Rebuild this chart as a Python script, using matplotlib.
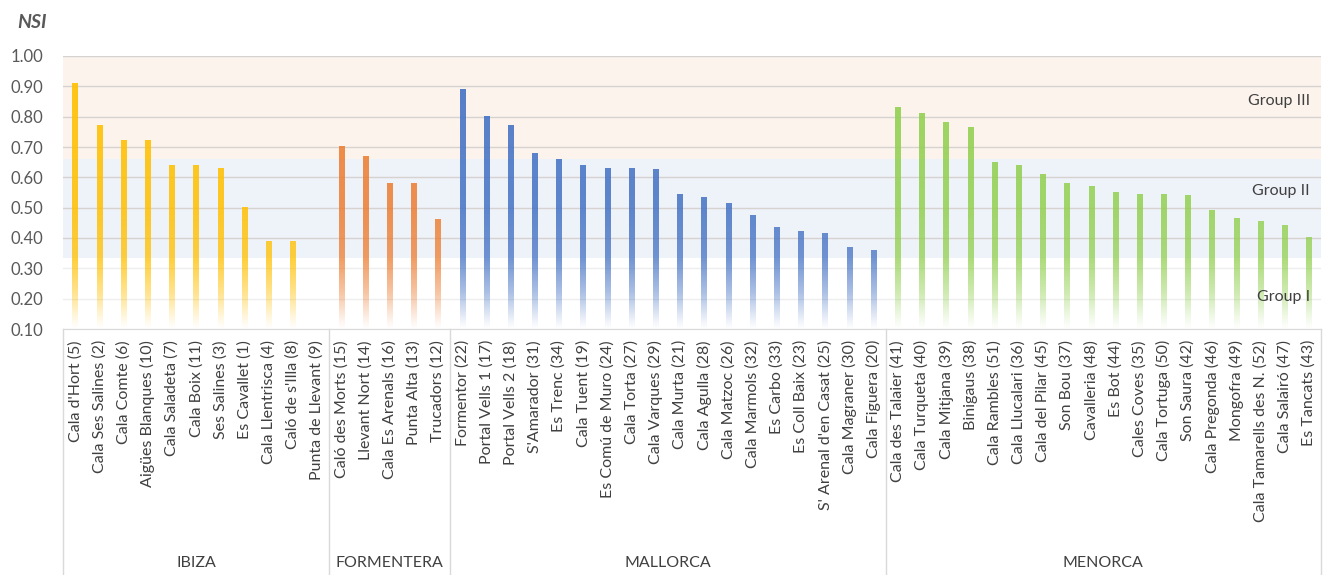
import numpy as np
import matplotlib
matplotlib.use("Agg")
import matplotlib.pyplot as plt
import matplotlib.transforms as mtransforms
from matplotlib.colors import to_rgb

plt.rcParams["font.family"] = ["Lato", "DejaVu Sans"]

# --- data (NSI per beach, grouped by island) ---
islands = ["IBIZA", "FORMENTERA", "MALLORCA", "MENORCA"]
island_colors = ["#FFC000", "#ED7D31", "#4472C4", "#92D050"]

ibiza_names = ["Cala d'Hort (5)", "Cala Ses Salines (2)", "Cala Comte (6)", "Aigües Blanques (10)",
               "Cala Saladeta (7)", "Cala Boix (11)", "Ses Salines (3)", "Es Cavallet (1)",
               "Cala Llentrisca (4)", "Caló de s'Illa (8)", "Punta de Llevant (9)"]
ibiza_nsi = [0.91, 0.77, 0.72, 0.72, 0.64, 0.64, 0.63, 0.50, 0.39, 0.39, 0.0]

formentera_names = ["Caló des Morts (15)", "Llevant Nort (14)", "Cala Es Arenals (16)",
                    "Punta Alta (13)", "Trucadors (12)"]
formentera_nsi = [0.70, 0.67, 0.58, 0.58, 0.46]

mallorca_names = ["Formentor (22)", "Portal Vells 1 (17)", "Portal Vells 2 (18)", "S'Amarador (31)",
                  "Es Trenc (34)", "Cala Tuent (19)", "Es Comú de Muro (24)", "Cala Torta (27)",
                  "Cala Varques (29)", "Cala Murta (21)", "Cala Agulla (28)", "Cala Matzoc (26)",
                  "Cala Marmols (32)", "Es Carbo (33)", "Es Coll Baix (23)", "S' Arenal d'en Casat (25)",
                  "Cala Magraner (30)", "Cala Figuera (20)"]
mallorca_nsi = [0.89, 0.80, 0.77, 0.68, 0.66, 0.64, 0.63, 0.63, 0.625, 0.545, 0.535, 0.515,
                0.475, 0.435, 0.42, 0.415, 0.37, 0.36]

menorca_names = ["Cala des Talaier (41)", "Cala Turqueta (40)", "Cala Mitjana (39)", "Binigaus (38)",
                 "Cala Rambles (51)", "Cala Llucalari (36)", "Cala del Pilar (45)", "Son Bou (37)",
                 "Cavalleria (48)", "Es Bot (44)", "Cales Coves (35)", "Cala Tortuga (50)",
                 "Son Saura (42)", "Cala Pregonda (46)", "Mongofra (49)", "Cala Tamarells des N. (52)",
                 "Cala Salairó (47)", "Es Tancats (43)"]
menorca_nsi = [0.83, 0.81, 0.78, 0.765, 0.65, 0.64, 0.61, 0.58, 0.57, 0.55, 0.545, 0.545,
               0.54, 0.49, 0.465, 0.455, 0.44, 0.40]

group_bands = [(0.335, 0.66, "#EEF2F9"), (0.66, 1.00, "#FCF3EC")]
group_labels = ["Group III", "Group II", "Group I"]
group_label_y = [0.85, 0.555, 0.205]
yticks = [0.10, 0.20, 0.30, 0.40, 0.50, 0.60, 0.70, 0.80, 0.90, 1.00]

names_by_island = [ibiza_names, formentera_names, mallorca_names, menorca_names]
nsi_by_island = [ibiza_nsi, formentera_nsi, mallorca_nsi, menorca_nsi]

names = sum(names_by_island, [])
vals = np.array(sum(nsi_by_island, []), dtype=float)
cols = sum([[c] * len(v) for c, v in zip(island_colors, nsi_by_island)], [])
x = np.arange(len(names))
YMIN = 0.10

fig = plt.figure(figsize=(13.25, 5.75), dpi=100)
ax = fig.add_axes([63 / 1325, 1 - 329 / 575, 1258 / 1325, 273 / 575])

for lo, hi, c in group_bands:
    ax.axhspan(lo, hi, color=c, zorder=0, lw=0)

# bars: invisible patches, filled with a vertical fade-out gradient
bars = ax.bar(x, np.clip(vals - YMIN, 0, None), bottom=YMIN, width=0.22, color="none", zorder=2)
alpha_y = [0.10, 0.13, 0.22, 0.33, 0.50, 1.00]
alpha_a = [0.00, 0.10, 0.45, 0.75, 0.85, 0.92]
for rect, c in zip(bars, cols):
    h = rect.get_height()
    if h <= 0:
        continue
    y0 = rect.get_y()
    ys = np.linspace(y0, y0 + h, 200)
    img = np.zeros((len(ys), 1, 4))
    img[:, 0, :3] = to_rgb(c)
    img[:, 0, 3] = np.interp(ys, alpha_y, alpha_a)
    ax.imshow(img, extent=[rect.get_x(), rect.get_x() + rect.get_width(), y0, y0 + h],
              origin="lower", aspect="auto", interpolation="bilinear", zorder=2)

ax.set_xlim(-0.5, len(names) - 0.5)
ax.set_ylim(YMIN, 1.0)
ax.set_yticks(yticks)
ax.set_yticklabels([f"{t:.2f}" for t in yticks])
ax.set_xticks(x)
ax.set_xticklabels(names, rotation=90)
ax.tick_params(axis="y", length=0, pad=14, labelsize=12, labelcolor="#595959")
ax.tick_params(axis="x", length=0, pad=8, labelsize=11.5, labelcolor="#404040")

ax.set_axisbelow(True)
ax.yaxis.grid(True, lw=1)
for gl, t in zip(ax.get_ygridlines(), yticks):
    gl.set_color("#D6D2D0" if t > 0.33 else "#EEEEEE")
for s in ("left", "right", "top"):
    ax.spines[s].set_visible(False)
ax.spines["bottom"].set_color("#D9D9D9")

# category box under the axis
trans = ax.get_xaxis_transform()
bounds = np.cumsum([0] + [len(v) for v in nsi_by_island]) - 0.5
for b in bounds:
    ax.plot([b, b], [0, -0.905], transform=trans, clip_on=False, color="#D9D9D9", lw=1)
for name, lo, hi in zip(islands, bounds[:-1], bounds[1:]):
    ax.text((lo + hi) / 2, -0.857, name, transform=trans, ha="center", va="center",
            fontsize=11.5, color="#404040")

ytrans = mtransforms.blended_transform_factory(ax.transAxes, ax.transData)
for lab, yv in zip(group_labels, group_label_y):
    ax.text(0.991, yv, lab, transform=ytrans, ha="right", va="center", fontsize=11.5, color="#404040")

fig.text(17 / 1325, 1 - 22 / 575, "NSI", fontweight="bold", fontstyle="italic",
         fontsize=14, color="#595959", va="center")

fig.savefig("out.png", dpi=100)
